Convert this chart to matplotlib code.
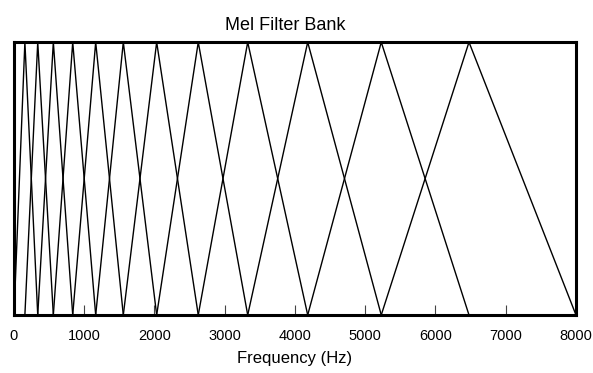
import matplotlib.pyplot as plt
import numpy as np

# filter edge / centre frequencies (Hz)
edges_hz = [0, 155, 338, 560, 836, 1163, 1556, 2031, 2623, 3327, 4181, 5228, 6477, 8000]
tick_pos = [0, 1000, 2000, 3000, 4000, 5000, 6000, 7000, 8000]
tick_labels = ['0', '1000', '2000', '3000', '4000', '5000', '6000', '7000', '8000']

plt.rcParams['font.family'] = ['Liberation Sans', 'DejaVu Sans']

fig = plt.figure(figsize=(5.93, 3.73), dpi=100)
ax = fig.add_axes([0.0236, 0.1555, 0.9477, 0.7315])

# each triangle: rise from edges[i] to edges[i+1], fall to edges[i+2]
for i in range(len(edges_hz) - 2):
    ax.plot(edges_hz[i:i + 3], [0, 1, 0], color='black', lw=1.0)

ax.set_xlim(0, 8000)
ax.set_ylim(0, 1)
ax.set_xticks(tick_pos)
ax.set_xticklabels(tick_labels, fontsize=10.5)
ax.set_yticks([])
ax.tick_params(axis='x', direction='in', length=7, width=0.8, color='#444444', pad=10)
for s in ax.spines.values():
    s.set_linewidth(2.2)

ax.set_title('Mel Filter Bank', fontsize=13, pad=9, x=0.483)
ax.set_xlabel('Frequency (Hz)', fontsize=12, labelpad=6)

fig.savefig('out.png', dpi=100)
